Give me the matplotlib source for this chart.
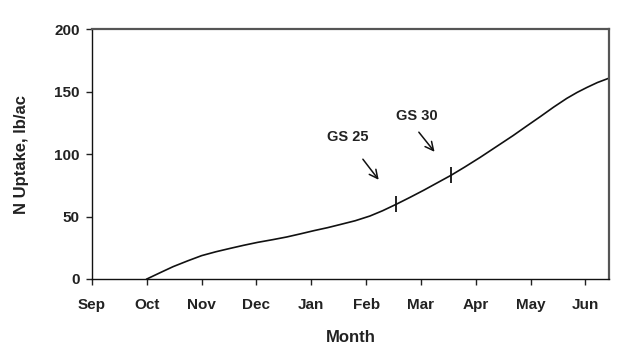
import matplotlib.pyplot as plt

# months counted from Sep = 0
months = ["Sep", "Oct", "Nov", "Dec", "Jan", "Feb", "Mar", "Apr", "May", "Jun"]
x_month = [1.0, 1.25, 1.48, 1.75, 2.0, 2.26, 2.52, 2.77, 3.02, 3.3, 3.55, 3.8,
           4.05, 4.3, 4.52, 4.8, 5.07, 5.3, 5.55, 5.8, 6.05, 6.3, 6.55, 6.8,
           7.08, 7.38, 7.68, 7.93, 8.18, 8.42, 8.66, 8.85, 9.03, 9.22, 9.42]
n_uptake = [0, 5.2, 9.9, 14.6, 18.7, 21.8, 24.5, 27.0, 29.3, 31.5, 33.6, 36.1,
            38.7, 41.1, 43.5, 46.6, 50.4, 54.6, 59.8, 65.3, 71.0, 77.0, 83.0, 89.6,
            97.3, 106.0, 114.7, 122.4, 130.0, 137.5, 144.5, 149.3, 153.3, 157.2, 160.5]
gs_x = [5.55, 6.55]
gs_y = [59.8, 83.0]
gs_labels = ["GS 25", "GS 30"]

plt.rcParams["font.family"] = ["Liberation Sans", "DejaVu Sans"]
plt.rcParams["font.weight"] = "bold"

fig = plt.figure(figsize=(6.36, 3.56), dpi=100)
ax = fig.add_axes([0.1447, 0.2163, 0.8128, 0.7022])

ax.plot(x_month, n_uptake, color="#111111", lw=1.2)
ax.plot(gs_x, gs_y, ls="none", marker="|", ms=11, mew=1.3, color="#111111")

# labels with arrows
arrow = dict(arrowstyle="->,head_length=0.6,head_width=0.3", color="#111111", lw=1.1)
ax.text(4.67, 113.6, gs_labels[0], ha="center", va="center",
        fontsize=10.5, fontweight="bold", color="#222222")
ax.annotate("", xy=(5.26, 77.6), xytext=(4.91, 97.6), arrowprops=arrow)
ax.text(5.93, 130.4, gs_labels[1], ha="center", va="center",
        fontsize=10.5, fontweight="bold", color="#222222")
ax.annotate("", xy=(6.28, 100), xytext=(5.93, 119.2), arrowprops=arrow)

ax.set_xlim(0, 9.43)
ax.set_ylim(0, 200)
ax.set_xticks(range(len(months)))
ax.set_xticklabels(months)
ax.set_yticks([0, 50, 100, 150, 200])
ax.tick_params(axis="both", direction="out", length=4, width=1,
               labelsize=11, colors="#222222")
ax.tick_params(axis="x", pad=10)
ax.tick_params(axis="y", pad=5)
for lab in ax.get_xticklabels() + ax.get_yticklabels():
    lab.set_fontweight("bold")

for s in ["left", "bottom"]:
    ax.spines[s].set_color("#111111")
    ax.spines[s].set_linewidth(1.0)
for s in ["top", "right"]:
    ax.spines[s].set_color("#555555")
    ax.spines[s].set_linewidth(1.6)

ax.set_xlabel("Month", fontsize=12, fontweight="bold", color="#222222", labelpad=13)
ax.set_ylabel("N Uptake, lb/ac", fontsize=12, fontweight="bold", color="#222222", labelpad=18)

fig.savefig("out.png", dpi=100)
